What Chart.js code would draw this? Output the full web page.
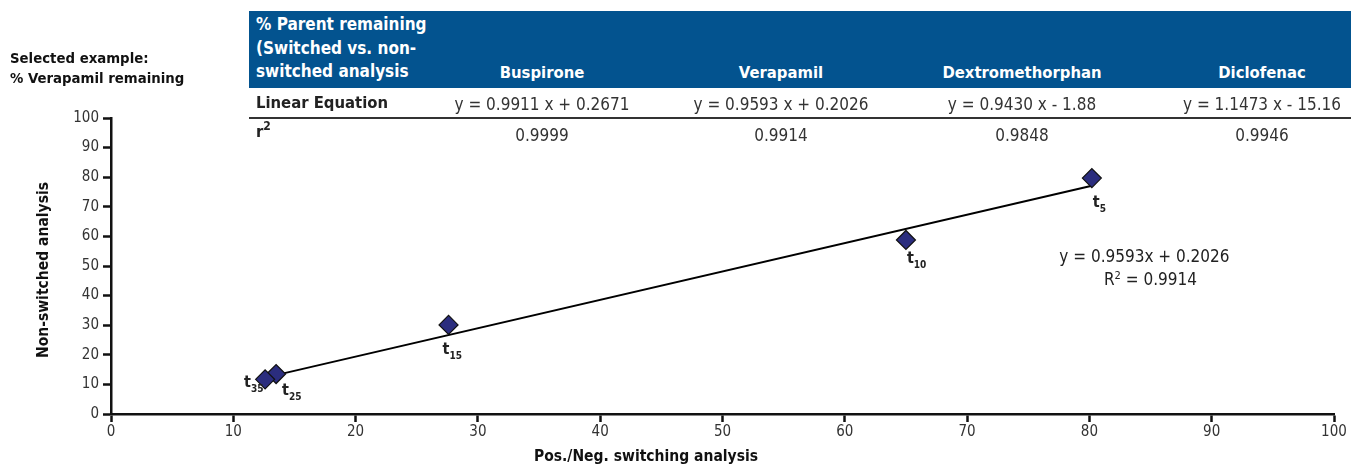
<!DOCTYPE html>
<html>
<head>
<meta charset="utf-8">
<script src="https://cdn.jsdelivr.net/npm/chart.js@4"></script>
<style>
  html, body { margin: 0; padding: 0; background: #fff; }
  body { width: 1351px; height: 466px; position: relative; overflow: hidden;
         font-family: "Liberation Sans Narrow", "DejaVu Sans Condensed", "Roboto Condensed", sans-serif; color: #222; }
  #wrap { position: absolute; left: 0; top: 0; width: 1351px; height: 466px; }
  .abs { position: absolute; white-space: nowrap; }
  #sel { left: 10px; top: 48px; font-size: 14.8px; line-height: 20px; font-weight: bold; color: #111; }
  #head { left: 249px; top: 11px; width: 1102px; height: 77px; background: #03538F; }
  #headTxt { left: 256px; top: 13px; font-size: 17px; line-height: 23.5px; font-weight: bold; color: #fff; }
  .colh { top: 63px; font-size: 16.5px; font-weight: bold; color: #fff; transform: translateX(-50%); }
  .cell { font-size: 17px; color: #333; transform: translateX(-50%); }
  #rule { left: 249px; top: 117px; width: 1102px; height: 2px; background: #333; }
  .rowh { left: 256px; font-size: 16.5px; font-weight: bold; color: #222; }
</style>
</head>
<body>
<div id="wrap"><canvas id="c" width="1351" height="466"></canvas></div>
<div id="sel" class="abs">Selected example:<br>% Verapamil remaining</div>
<div id="head" class="abs"></div>
<div id="headTxt" class="abs">% Parent remaining<br>(Switched vs. non-<br>switched analysis</div>
<div id="rule" class="abs"></div>
<div id="tbl"></div>
<script>
// Summary table: linear fits of parent remaining, switched vs. non-switched
const compounds = ['Buspirone', 'Verapamil', 'Dextromethorphan', 'Diclofenac'];
const equations = ['y = 0.9911 x + 0.2671', 'y = 0.9593 x + 0.2026', 'y = 0.9430 x - 1.88', 'y = 1.1473 x - 15.16'];
const rSquared = ['0.9999', '0.9914', '0.9848', '0.9946'];

// Verapamil time points: switched (x) vs. non-switched (y), % remaining
const timeLabels = ['5', '10', '15', '25', '35'];
const switchedPct = [80.2, 65.0, 27.6, 13.5, 12.6];
const nonSwitchedPct = [79.7, 58.8, 30.1, 13.5, 11.7];

// Verapamil linear fit
const fitSlope = 0.9593;
const fitIntercept = 0.2026;
const fitR2 = 0.9914;

// Axis ticks
const xTicks = [0, 10, 20, 30, 40, 50, 60, 70, 80, 90, 100];
const yTicks = [0, 10, 20, 30, 40, 50, 60, 70, 80, 90, 100];

const FONT = '"Liberation Sans Narrow", "DejaVu Sans Condensed", sans-serif';

// ---- table ----
const colCenters = [542, 781, 1022, 1262];
const tbl = document.getElementById('tbl');
function addDiv(cls, text, left, top, html) {
  const d = document.createElement('div');
  d.className = 'abs ' + cls;
  d.style.left = left + 'px';
  d.style.top = top + 'px';
  if (html) d.innerHTML = text; else d.textContent = text;
  tbl.appendChild(d);
}
compounds.forEach((c, i) => {
  addDiv('colh', c, colCenters[i], 63);
  addDiv('cell', equations[i], colCenters[i], 94);
  addDiv('cell', rSquared[i], colCenters[i], 125);
});
addDiv('rowh', 'Linear Equation', 256, 93);
addDiv('rowh', 'r<sup style="font-size:12px;vertical-align:7px">2</sup>', 256, 119, true);

// ---- chart ----
const points = switchedPct.map((x, i) => ({ x: x, y: nonSwitchedPct[i] }));
const xMin = Math.min(...switchedPct), xMax = Math.max(...switchedPct);
const fitLine = [xMin, xMax].map(x => ({ x: x, y: fitSlope * x + fitIntercept }));

// label placement relative to each marker (px): [dx, dy] of the "t" baseline-left
const labelOffsets = [[1, 29], [1, 23], [-6, 29], [6, 21], [-21, 8]];

const pointLabels = {
  id: 'pointLabels',
  afterDatasetsDraw(chart) {
    const ctx = chart.ctx;
    const meta = chart.getDatasetMeta(1);
    ctx.save();
    ctx.fillStyle = '#222';
    ctx.textBaseline = 'alphabetic';
    ctx.textAlign = 'left';
    meta.data.forEach((el, i) => {
      const [dx, dy] = labelOffsets[i];
      const x = el.x + dx, y = el.y + dy;
      ctx.font = 'bold 16px ' + FONT;
      ctx.fillText('t', x, y);
      const w = ctx.measureText('t').width;
      ctx.font = 'bold 10px ' + FONT;
      ctx.fillText(timeLabels[i], x + w, y + 5);
    });
    ctx.restore();
  }
};

const annotations = {
  id: 'annotations',
  afterDraw(chart) {
    const ctx = chart.ctx;
    const xs = chart.scales.x, ys = chart.scales.y;
    ctx.save();
    ctx.fillStyle = '#222';
    ctx.textBaseline = 'middle';
    ctx.textAlign = 'center';
    ctx.font = '17px ' + FONT;
    const ex = xs.getPixelForValue(84.5);
    const ey = ys.getPixelForValue(52.8);
    ctx.fillText('y = ' + fitSlope.toFixed(4) + 'x + ' + fitIntercept.toFixed(4), ex, ey);
    // R² line with superscript
    const rTxt = ' = ' + fitR2.toFixed(4);
    const rW = ctx.measureText('R').width;
    const restW = ctx.measureText(rTxt).width;
    ctx.font = '11px ' + FONT;
    const supW = ctx.measureText('2').width;
    const total = rW + supW + restW;
    const sx = ex + 6 - total / 2;
    const ry = ey + 23;
    ctx.textAlign = 'left';
    ctx.font = '17px ' + FONT;
    ctx.fillText('R', sx, ry);
    ctx.font = '11px ' + FONT;
    ctx.fillText('2', sx + rW, ry - 5);
    ctx.font = '17px ' + FONT;
    ctx.fillText(rTxt, sx + rW + supW, ry);

    // axis titles
    ctx.font = 'bold 15.5px ' + FONT;
    ctx.textAlign = 'center';
    ctx.fillStyle = '#111';
    ctx.fillText('Pos./Neg. switching analysis', 646, 457);
    ctx.translate(44, 270);
    ctx.rotate(-Math.PI / 2);
    ctx.fillText('Non-switched analysis', 0, 0);
    ctx.restore();
  }
};

new Chart(document.getElementById('c'), {
  type: 'scatter',
  data: {
    datasets: [
      {
        type: 'line',
        data: fitLine,
        borderColor: '#000',
        borderWidth: 2,
        pointRadius: 0,
        fill: false,
        order: 2
      },
      {
        data: points,
        pointStyle: 'rectRot',
        pointRadius: 9.5,
        pointHoverRadius: 9.5,
        backgroundColor: '#2B2D7E',
        borderColor: '#111',
        borderWidth: 1.2,
        order: 1
      }
    ]
  },
  plugins: [pointLabels, annotations],
  options: {
    responsive: false,
    animation: false,
    events: [],
    layout: { padding: { left: 0, top: 118, right: 17, bottom: 0 } },
    plugins: { legend: { display: false }, tooltip: { enabled: false }, title: { display: false } },
    scales: {
      x: {
        type: 'linear',
        min: 0, max: 100,
        afterBuildTicks: s => { s.ticks = xTicks.map(v => ({ value: v })); },
        afterFit: s => { s.height = 52; },
        border: { display: true, color: '#111', width: 2.5 },
        grid: { drawOnChartArea: false, drawTicks: true, tickLength: 8, tickWidth: 2.5, tickColor: '#111' },
        ticks: { color: '#333', font: { family: FONT, size: 15 }, padding: 1, maxRotation: 0 }
      },
      y: {
        type: 'linear',
        min: 0, max: 100,
        afterBuildTicks: s => { s.ticks = yTicks.map(v => ({ value: v })); },
        afterFit: s => { s.width = 111; },
        border: { display: true, color: '#111', width: 2.5 },
        grid: { drawOnChartArea: false, drawTicks: true, tickLength: 8, tickWidth: 2.5, tickColor: '#111' },
        ticks: { color: '#333', font: { family: FONT, size: 15 }, padding: 4 }
      }
    }
  }
});
</script>
</body>
</html>
